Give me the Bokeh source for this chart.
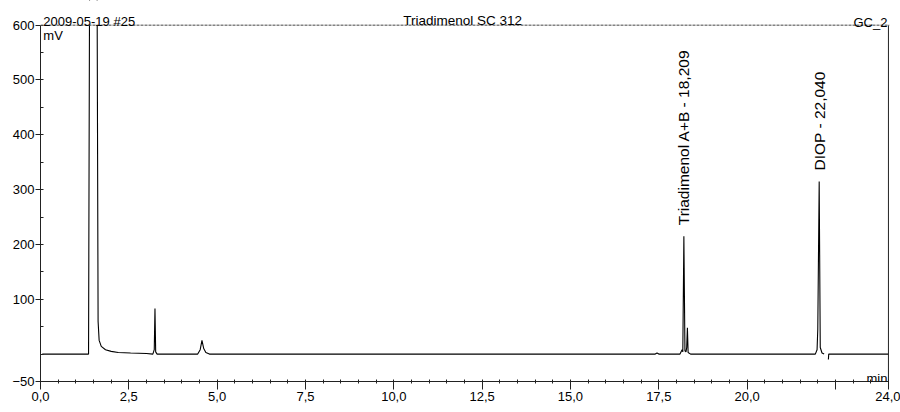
import math
from bokeh.plotting import figure
from bokeh.models import FixedTicker, Label, ColumnDataSource, Span, BoxAnnotation
from bokeh.core.properties import value
from bokeh.embed import file_html
from bokeh.resources import INLINE

NAN = float("nan")

# chromatogram trace (retention time in min, signal in mV)
time_min = [0.05, 1.36, 1.39, 1.60, 1.63, 1.66, 1.72, 1.84, 2.00, 2.20, 2.55, 3.00,
            3.18, 3.22, 3.24, 3.26, 3.30, 4.45, 4.52, 4.57, 4.62, 4.68, 4.78,
            10.0, 15.0, 17.40, 17.45, 17.50, 18.10, 18.16, 18.18, 18.21, 18.24,
            18.27, 18.29, 18.31, 18.33, 18.40, 19.0, 21.0, 21.93, 21.98, 22.00,
            22.04, 22.07, 22.12, 22.18, 22.19, 22.30, 22.31, 24.0]
signal_mv = [0, 0, 700, 700, 60, 25, 14, 8, 5, 3, 2, 1,
             0, 8, 83, 4, 0, 0, 8, 25, 10, 3, 0,
             0, 0, 0, 2, 0, 0, 8, 4, 215, 6,
             4, 12, 48, 3, 0, 0, 0, 0, 8, 45,
             315, 12, 2, 0, NAN, -10, 0, 0]

# peak annotations
peak_names = ["Triadimenol A+B - 18,209", "DIOP - 22,040"]
peak_rt = [18.209, 22.040]
peak_height = [215, 315]

# axis ticks
x_major = [0.0, 2.5, 5.0, 7.5, 10.0, 12.5, 15.0, 17.5, 20.0, 22.5, 24.0]
x_labels = ["0,0", "2,5", "5,0", "7,5", "10,0", "12,5", "15,0", "17,5", "20,0", "", "24,0"]
x_minor = [i * 0.5 for i in range(49)]
y_major = [-50, 100, 200, 300, 400, 500, 600]
y_minor = [-50, 0, 50, 100, 150, 200, 250, 300, 350, 400, 450, 500, 550, 600]
X_MAX = 24
Y_MIN, Y_MAX = -50, 600

FONT = "Liberation Sans"
INK = "#222222"

p = figure(width=900, height=412, output_backend="svg", toolbar_location=None,
           x_range=(0, X_MAX + 0.03), y_range=(-50, 645),
           min_border_left=40, min_border_right=11, min_border_top=0, min_border_bottom=31)
p.background_fill_color = "white"
p.border_fill_color = "white"
p.xgrid.visible = False
p.ygrid.visible = False
p.outline_line_color = None

p.line(time_min, signal_mv, line_color="black", line_width=1.1)

# right border of the plot box
p.segment(x0=[X_MAX], y0=[Y_MIN], x1=[X_MAX], y1=[Y_MAX], line_color=INK, line_width=1)

# mask anything above the 600 mV display limit, then the top border
p.add_layout(BoxAnnotation(bottom=Y_MAX, fill_color="white", fill_alpha=1.0, line_color=None))
p.add_layout(Span(location=Y_MAX, dimension="width", line_color="#444444", line_width=1,
                  line_dash="3 1"))

src = ColumnDataSource(dict(x=peak_rt, y=[h + 20 for h in peak_height], t=peak_names))
p.text(x="x", y="y", text="t", source=src, angle=math.pi / 2,
       text_align="left", text_baseline="middle",
       text_font=value(FONT), text_font_size="15.5px", text_color="black")

# x axis
p.xaxis.ticker = FixedTicker(ticks=x_major, minor_ticks=x_minor)
p.xaxis.major_label_overrides = {t: l for t, l in zip(x_major, x_labels)}
p.xaxis.major_tick_in = 0
p.xaxis.major_tick_out = 8
p.xaxis.minor_tick_in = 2
p.xaxis.minor_tick_out = 2
p.xaxis.major_label_standoff = 2
p.xaxis.bounds = (0, X_MAX)

# y axis
p.yaxis.ticker = FixedTicker(ticks=y_major, minor_ticks=y_minor)
p.yaxis.bounds = (Y_MIN, Y_MAX)
p.yaxis.major_tick_in = 0
p.yaxis.major_tick_out = 5
p.yaxis.minor_tick_in = 3
p.yaxis.minor_tick_out = 0
p.yaxis.major_label_standoff = 1

for ax in (p.xaxis, p.yaxis):
    ax.axis_line_color = INK
    ax.major_tick_line_color = INK
    ax.minor_tick_line_color = INK
    ax.major_label_text_font = FONT
    ax.major_label_text_font_size = "13px"
    ax.major_label_text_color = "black"

def lab(x, y, text, align="left", size="13px"):
    p.add_layout(Label(x=x, y=y, text=text, text_align=align, text_baseline="alphabetic",
                       text_font=FONT, text_font_size=size, text_color="black"))

lab(0.08, 607, "2009-05-19 #25")
lab(11.95, 609, "Triadimenol SC 312", align="center", size="13.5px")
lab(23.97, 605, "GC_2", align="right")
lab(0.08, 581, "mV")
lab(23.97, -45, "min", align="right")

open("out.html", "w").write(file_html(p, INLINE))
